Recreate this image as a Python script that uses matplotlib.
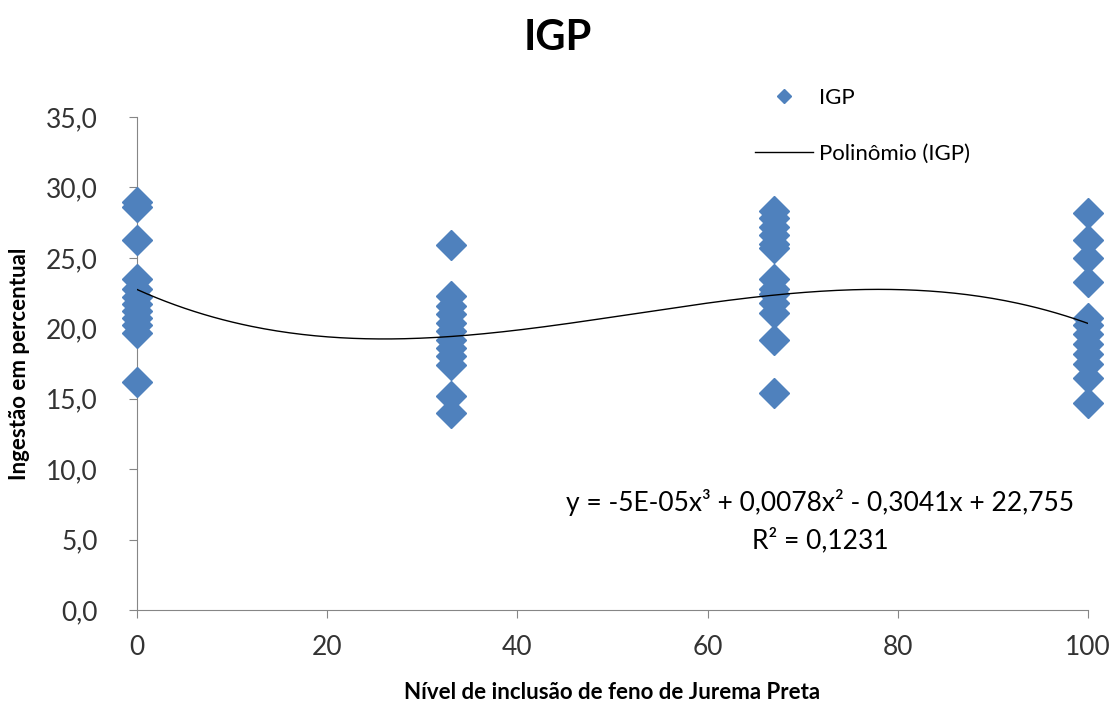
import numpy as np
import matplotlib.pyplot as plt

plt.rcParams['font.family'] = ['Lato', 'DejaVu Sans']

# niveis de inclusao e valores de IGP
nivel_0 = [29.0, 28.6, 26.3, 23.5, 22.8, 22.2, 21.7, 21.2, 20.7, 20.2, 19.7, 16.2]
nivel_33 = [25.9, 22.3, 21.6, 21.0, 20.4, 19.8, 19.2, 18.6, 18.0, 17.4, 15.2, 14.0]
nivel_67 = [28.3, 27.8, 27.2, 26.6, 26.0, 25.7, 23.5, 22.8, 22.4, 21.8, 21.1, 19.2, 15.4]
nivel_100 = [28.2, 26.3, 25.0, 23.3, 20.7, 20.2, 19.6, 18.9, 18.2, 17.5, 16.5, 14.7]
niveis = [0, 33, 67, 100]

# coeficientes da linha de tendencia (polinomio de grau 3)
coef = [-5e-05, 0.0078, -0.3041, 22.755]

xs = []
ys = []
for n, vals in zip(niveis, [nivel_0, nivel_33, nivel_67, nivel_100]):
    xs += [n] * len(vals)
    ys += vals

fig = plt.figure(figsize=(11.16, 7.04), dpi=100)
ax = fig.add_axes([137/1116, 1 - 610/704, (1088-137)/1116, (610-117)/704])

ax.plot(xs, ys, 'D', color='#4F81BD', markersize=15, label='IGP', zorder=3, clip_on=False)
xc = np.linspace(0, 100, 300)
ax.plot(xc, np.polyval(coef, xc), color='black', lw=1, label='Polinômio (IGP)', zorder=4)

ax.set_xlim(0, 100)
ax.set_ylim(0, 35)
ax.set_xticks(range(0, 101, 20))
ax.set_yticks(np.arange(0, 36, 5))
ax.set_yticklabels(['{:.1f}'.format(v).replace('.', ',') for v in np.arange(0, 36, 5)])
ax.tick_params(labelsize=19, length=6, color='#868686', labelcolor='#333333')
ax.tick_params(axis='y', pad=22)
ax.tick_params(axis='x', pad=12)
for s in ['top', 'right']:
    ax.spines[s].set_visible(False)
for s in ['left', 'bottom']:
    ax.spines[s].set_color('#868686')

fig.text(0.5, 1 - 38/704, 'IGP', ha='center', va='center', fontsize=30, fontweight='bold')
ax.set_ylabel('Ingestão em percentual', fontsize=16, fontweight='bold', labelpad=12)
ax.set_xlabel('Nível de inclusão de feno de Jurema Preta', fontsize=16, fontweight='bold', labelpad=16)

ax.text(820/1116, 1 - 503/704, 'y = -5E-05x³ + 0,0078x² - 0,3041x + 22,755', transform=fig.transFigure,
        ha='center', va='center', fontsize=19)
ax.text(820/1116, 1 - 540/704, 'R² = 0,1231', transform=fig.transFigure,
        ha='center', va='center', fontsize=19)

leg = fig.legend(loc='upper left', bbox_to_anchor=(735/1116, 1 - 68/704), frameon=False,
                 fontsize=16, labelspacing=1.6, handlelength=2.6, handletextpad=0.3,
                 markerscale=0.5)

fig.savefig('out.png', dpi=100)
